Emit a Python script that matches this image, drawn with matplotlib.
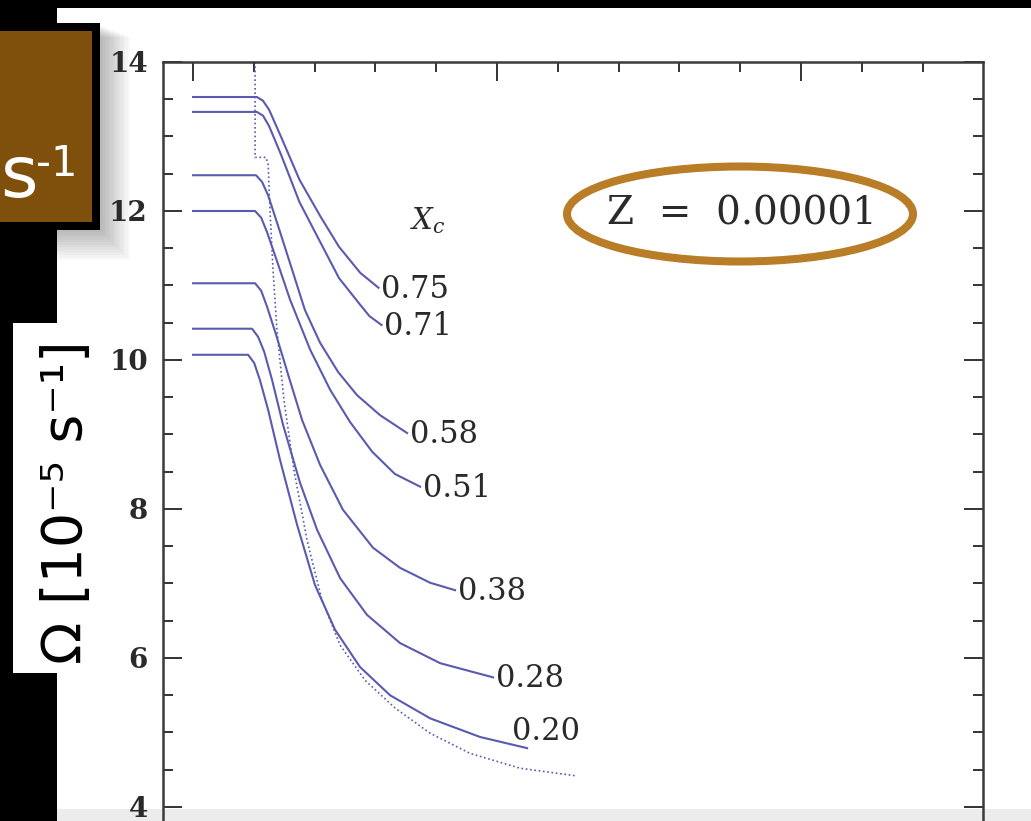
import matplotlib.pyplot as plt
from matplotlib.patches import Rectangle, Ellipse
from matplotlib.ticker import MultipleLocator

W, H = 1031, 821

# rotation curves, one per central hydrogen fraction X_c
xc_labels = ['0.75', '0.71', '0.58', '0.51', '0.38', '0.28', '0.20']

x_075 = [0.00, 0.21, 0.23, 0.25, 0.29, 0.35, 0.42, 0.48, 0.55, 0.61]
y_075 = [13.53, 13.53, 13.48, 13.36, 12.99, 12.42, 11.92, 11.52, 11.17, 10.97]

x_071 = [0.00, 0.21, 0.23, 0.25, 0.29, 0.35, 0.42, 0.48, 0.55, 0.58, 0.62]
y_071 = [13.33, 13.33, 13.28, 13.14, 12.75, 12.12, 11.57, 11.10, 10.74, 10.59, 10.47]

x_058 = [0.00, 0.207, 0.227, 0.247, 0.286, 0.326, 0.368, 0.418, 0.477, 0.539, 0.615, 0.704]
y_058 = [12.48, 12.48, 12.39, 12.21, 11.72, 11.21, 10.67, 10.23, 9.84, 9.53, 9.26, 9.02]

x_051 = [0.00, 0.204, 0.224, 0.243, 0.280, 0.319, 0.385, 0.451, 0.516, 0.589, 0.664, 0.747]
y_051 = [12.00, 12.00, 11.91, 11.72, 11.28, 10.81, 10.14, 9.60, 9.17, 8.77, 8.47, 8.30]

x_038 = [0.00, 0.204, 0.224, 0.243, 0.273, 0.313, 0.359, 0.418, 0.493, 0.592, 0.681, 0.780, 0.862]
y_038 = [11.03, 11.03, 10.93, 10.72, 10.34, 9.80, 9.19, 8.59, 7.99, 7.48, 7.21, 7.01, 6.91]

x_028 = [0.00, 0.194, 0.214, 0.234, 0.260, 0.296, 0.352, 0.408, 0.484, 0.572, 0.681, 0.813, 0.987]
y_028 = [10.42, 10.42, 10.31, 10.11, 9.73, 9.13, 8.35, 7.72, 7.07, 6.58, 6.20, 5.93, 5.74]

x_020 = [0.00, 0.181, 0.201, 0.220, 0.247, 0.286, 0.342, 0.401, 0.467, 0.549, 0.648, 0.780, 0.944, 1.099]
y_020 = [10.07, 10.07, 9.96, 9.73, 9.33, 8.66, 7.79, 6.98, 6.38, 5.88, 5.50, 5.19, 4.94, 4.79]

x_dot = [0.204, 0.204, 0.240, 0.247, 0.253, 0.263, 0.276, 0.299, 0.332, 0.375, 0.424,
         0.484, 0.566, 0.664, 0.780, 0.911, 1.076, 1.257]
y_dot = [14.00, 12.72, 12.72, 12.62, 12.01, 11.21, 10.40, 9.46, 8.52, 7.58, 6.78,
         6.17, 5.70, 5.33, 4.99, 4.72, 4.52, 4.42]

curves = [(x_075, y_075), (x_071, y_071), (x_058, y_058), (x_051, y_051),
          (x_038, y_038), (x_028, y_028), (x_020, y_020)]

y_ticks = [4, 6, 8, 10, 12, 14]
y_ticklabels = ['4', '6', '8', '10', '12', '14']

line_col = '#5a5ab0'
txt_col = '#2a2a2a'
plt.rcParams['mathtext.fontset'] = 'dejavuserif'


def fx(px):
    return px / W


def fy(py):
    return 1 - py / H


fig = plt.figure(figsize=(W / 100, H / 100), dpi=100)
fig.patch.set_facecolor('black')

# slide background: white picture area, grey bottom edge
fig.add_artist(Rectangle((fx(57), 0), 1 - fx(57), fy(8), transform=fig.transFigure,
                         facecolor='white', edgecolor='none', zorder=-10))
fig.add_artist(Rectangle((fx(57), 0), 1 - fx(57), 12 / H, transform=fig.transFigure,
                         facecolor='#ececec', edgecolor='none', zorder=-9))

# soft shadow + brown box in the corner
for k in range(1, 13):
    fig.add_artist(Rectangle((0, fy(230 + 2.5 * k)), fx(100 + 2.5 * k), (205 + 1.5 * k) / H,
                             transform=fig.transFigure, facecolor='black', alpha=0.022,
                             edgecolor='none', zorder=-8))
fig.add_artist(Rectangle((0, fy(230)), fx(100), 207 / H, transform=fig.transFigure,
                         facecolor='black', edgecolor='none', zorder=-7))
fig.add_artist(Rectangle((0, fy(222)), fx(92), 191 / H, transform=fig.transFigure,
                         facecolor='#7e500c', edgecolor='none', zorder=-6))
fig.text(fx(0), fy(197), 's', color='white', fontsize=52,
         ha='left', va='baseline', family='DejaVu Sans')
fig.text(fx(36), fy(176), '-1', color='white', fontsize=30,
         ha='left', va='baseline', family='DejaVu Sans')

# y label box
fig.add_artist(Rectangle((fx(13), fy(673)), fx(105) - fx(13), 350 / H,
                         transform=fig.transFigure, facecolor='white', edgecolor='none',
                         zorder=-7))
fig.text(fx(67), fy(502), '\u03a9 [10\u207b\u2075 s\u207b\u00b9]', rotation=90,
         fontsize=40, ha='center', va='center', color='black', family='DejaVu Sans')

ax = fig.add_axes([fx(163), 0, (983 - 163) / W, fy(62)])
ax.set_facecolor('none')

for (xs, ys), lab in zip(curves, xc_labels):
    ax.plot(xs, ys, color=line_col, lw=1.5)
    if lab == '0.20':
        off = (-11, 12)
    else:
        off = (2, -1)
    ax.annotate(lab, (xs[-1], ys[-1]), xytext=off, textcoords='offset points',
                ha='left', va='center', fontsize=22, family='DejaVu Serif', color=txt_col)

ax.plot(x_dot, y_dot, color=line_col, lw=1.2, linestyle=(0, (1, 1.6)))

ax.text(0.714, 11.87, r'$X_c$', fontsize=21, color=txt_col, ha='left', va='center')
ax.text(1.362, 11.96, 'Z  =  0.00001', fontsize=28, family='DejaVu Serif',
        color=txt_col, ha='left', va='center')

ax.set_xlim(-0.099, 2.599)
ax.set_ylim(3.812, 14)
ax.xaxis.set_major_locator(MultipleLocator(1))
ax.xaxis.set_minor_locator(MultipleLocator(0.2))
ax.set_yticks(y_ticks, y_ticklabels, fontsize=20, fontweight='bold',
              family='DejaVu Serif', color=txt_col)
ax.yaxis.set_minor_locator(MultipleLocator(0.5))
ax.tick_params(which='both', direction='in', top=True, right=True, bottom=False,
               labelbottom=False, color='#333333', width=1.4)
ax.tick_params(which='major', length=14)
ax.tick_params(which='minor', length=7)
ax.tick_params(axis='y', which='major', pad=11)
for side in ['left', 'right', 'top']:
    ax.spines[side].set_linewidth(1.8)
    ax.spines[side].set_color('#3a3a3a')
ax.spines['bottom'].set_visible(False)

fig.add_artist(Ellipse((fx(740), fy(214)), 346 / W, 95 / H, transform=fig.transFigure,
                       fill=False, edgecolor='#b97d27', lw=5.8, zorder=5))

fig.savefig('out.png', dpi=100, facecolor=fig.get_facecolor())
